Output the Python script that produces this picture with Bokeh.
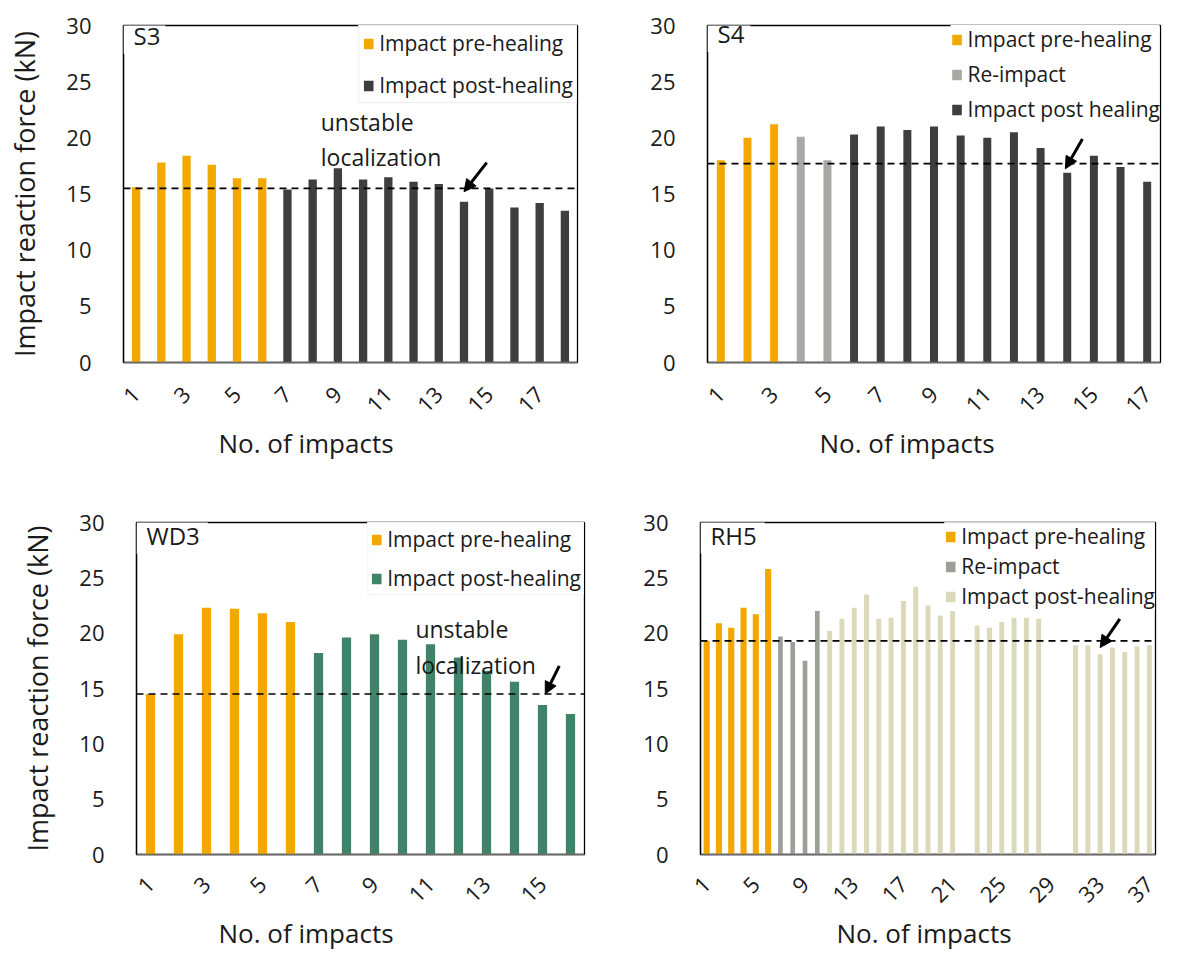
from math import pi
from bokeh.plotting import figure
from bokeh.models import (Range1d, FixedTicker, Span, Label, Arrow, NormalHead,
                          Legend, LegendItem, Title)
from bokeh.layouts import column, row
from bokeh.embed import file_html
from bokeh.resources import INLINE

FONT = "Open Sans"

# ---------------- data ----------------
s3_pre = [15.6, 17.8, 18.4, 17.6, 16.4, 16.4]
s3_post = [15.4, 16.3, 17.3, 16.3, 16.5, 16.1, 15.9, 14.3, 15.5, 13.8, 14.2, 13.5]
s3_threshold = 15.5
s3_ticks = [1, 3, 5, 7, 9, 11, 13, 15, 17]

s4_pre = [18.0, 20.0, 21.2]
s4_re = [20.1, 18.0]
s4_post = [20.3, 21.0, 20.7, 21.0, 20.2, 20.0, 20.5, 19.1, 16.9, 18.4, 17.4, 16.1]
s4_threshold = 17.7
s4_ticks = [1, 3, 5, 7, 9, 11, 13, 15, 17]

wd3_pre = [14.5, 19.9, 22.3, 22.2, 21.8, 21.0]
wd3_post = [18.2, 19.6, 19.9, 19.4, 19.0, 17.8, 16.6, 15.6, 13.5, 12.7]
wd3_threshold = 14.5
wd3_ticks = [1, 3, 5, 7, 9, 11, 13, 15]

rh5_pre = [19.3, 20.9, 20.5, 22.3, 21.7, 25.8]
rh5_re = [19.7, 19.2, 17.5, 22.0]
rh5_post = [20.2, 21.3, 22.3, 23.5, 21.3, 21.4, 22.9, 24.2, 22.5, 21.6, 22.0, 0,
            20.7, 20.5, 21.0, 21.4, 21.4, 21.3, 0, 0,
            18.9, 18.9, 18.1, 18.7, 18.3, 18.8, 18.9]
rh5_threshold = 19.3
rh5_ticks = [1, 5, 9, 13, 17, 21, 25, 29, 33, 37]

y_ticks = [0, 5, 10, 15, 20, 25, 30]

ORANGE = "#F2A800"
DARK = "#3E3E3E"
GREY_S4 = "#A9A8A4"
GREEN = "#3F8468"
GREY_RH5 = "#9E9E98"
BEIGE = "#DCD8BA"


def make_panel(name, series, threshold, ticks, geom, legend_geom,
               notes=None, arrow=None, ytitle=False):
    n = sum(len(s[1]) for s in series)
    p = figure(width=geom["w"], height=geom["h"],
               x_range=Range1d(0.5, n + 0.5), y_range=Range1d(0, 30),
               output_backend="svg", toolbar_location=None,
               min_border_left=geom["l"], min_border_right=geom["r"],
               min_border_top=geom["t"], min_border_bottom=geom["b"])
    p.xgrid.visible = False
    p.ygrid.visible = False
    p.outline_line_color = "black"
    p.outline_line_width = 1.3
    p.background_fill_color = "white"
    p.border_fill_color = "white"

    # axes
    p.yaxis.ticker = FixedTicker(ticks=y_ticks)
    p.yaxis.major_tick_line_color = None
    p.yaxis.minor_tick_line_color = None
    p.yaxis.axis_line_color = "black"
    p.yaxis.axis_line_width = 1.3
    p.yaxis.major_label_text_font = FONT
    p.yaxis.major_label_text_font_size = "22px"
    p.yaxis.major_label_text_color = "#1a1a1a"
    p.yaxis.major_label_standoff = 26
    if ytitle:
        p.yaxis.axis_label = "Impact reaction force (kN)"
        p.yaxis.axis_label_text_font = FONT
        p.yaxis.axis_label_text_font_size = "27px"
        p.yaxis.axis_label_text_font_style = "normal"
        p.yaxis.axis_label_text_color = "#1a1a1a"
        p.yaxis.axis_label_standoff = 20

    p.xaxis.ticker = FixedTicker(ticks=ticks)
    p.xaxis.major_tick_line_color = None
    p.xaxis.minor_tick_line_color = None
    p.xaxis.axis_line_color = "#6b6b6b"
    p.xaxis.axis_line_width = 1.3
    p.xaxis.major_label_orientation = pi / 4
    p.xaxis.major_label_text_font = FONT
    p.xaxis.major_label_text_font_size = "22px"
    p.xaxis.major_label_text_color = "#1a1a1a"
    p.xaxis.major_label_standoff = geom["s1"]

    # x-axis title, shifted like in the reference
    p.add_layout(Title(text="No. of impacts", align="left", offset=geom["xt"],
                       standoff=geom["s2"], text_font=FONT,
                       text_font_size="26px", text_font_style="normal",
                       text_color="#1a1a1a"), "below")

    # bars
    items = []
    start = 1
    for label, vals, color, width in series:
        xs = list(range(start, start + len(vals)))
        start += len(vals)
        r = p.vbar(x=xs, top=vals, width=width, fill_color=color, line_color=None)
        items.append(LegendItem(label=label, renderers=[r]))

    p.add_layout(Span(location=threshold, dimension="width", line_color="black",
                      line_width=1.6, line_dash="7 5"))

    if notes:
        for txt, x, y in notes:
            p.add_layout(Label(x=x, y=y, text=txt, text_font=FONT,
                               text_font_size="23px", text_color="#1a1a1a",
                               text_baseline="middle", text_align="left"))
    if arrow:
        x0, y0, x1, y1 = arrow
        p.add_layout(Arrow(x_start=x0, y_start=y0, x_end=x1, y_end=y1,
                           line_color="black", line_width=3,
                           end=NormalHead(size=12, fill_color="black",
                                          line_color="black")))

    lg = Legend(items=items, location="top_right", margin=legend_geom["m"],
                padding=legend_geom["pad"], spacing=legend_geom["sp"],
                label_text_font=FONT, label_text_font_size="21px",
                label_text_color="#1a1a1a", label_standoff=5,
                glyph_width=12, glyph_height=13,
                background_fill_color="white",
                background_fill_alpha=legend_geom.get("alpha", 1.0),
                border_line_color=legend_geom["border"])
    p.add_layout(lg)

    ly, lpad = geom["tag"]
    p.add_layout(Label(x=0.5, y=ly, text=name, text_font=FONT,
                       text_font_size="24px", text_color="#1a1a1a",
                       text_baseline="middle", text_align="left",
                       background_fill_color="white", padding=lpad))
    return p


TOP = dict(h=470, t=25, b=108, s1=22, s2=0)
BOT = dict(h=480, t=52, b=93, s1=20, s2=0)

p1 = make_panel(
    "S3",
    [("Impact pre-healing", s3_pre, ORANGE, 0.33),
     ("Impact post-healing", s3_post, DARK, 0.33)],
    s3_threshold, s3_ticks,
    dict(TOP, w=592, l=123, r=15, xt=95, tag=(29.35, (10, 5, 7, 2))),
    dict(m=0, pad=3, sp=14, border="#dddddd"),
    notes=[("unstable", 8.32, 21.45), ("localization", 8.32, 18.27)],
    arrow=(14.9, 17.8, 14.0, 15.2), ytitle=True)

p2 = make_panel(
    "S4",
    [("Impact pre-healing", s4_pre, ORANGE, 0.3),
     ("Re-impact", s4_re, GREY_S4, 0.3),
     ("Impact post healing", s4_post, DARK, 0.3)],
    s4_threshold, s4_ticks,
    dict(TOP, w=584, l=115, r=16, xt=112, tag=(29.5, (10, 6, 7, 2))),
    dict(m=0, pad=1, sp=7, border=None),
    arrow=(14.57, 19.9, 13.93, 17.25))

p3 = make_panel(
    "WD3",
    [("Impact pre-healing", wd3_pre, ORANGE, 0.33),
     ("Impact post-healing", wd3_post, GREEN, 0.33)],
    wd3_threshold, wd3_ticks,
    dict(BOT, w=592, l=136, r=8, xt=82, tag=(29.0, (10, 8, 6, 2))),
    dict(m=0, pad=2, sp=11, border="#e6e6e6"),
    notes=[("unstable", 10.46, 20.4), ("localization", 10.46, 17.1)],
    arrow=(15.6, 17.05, 15.1, 14.5), ytitle=True)

p4 = make_panel(
    "RH5",
    [("Impact pre-healing", rh5_pre, ORANGE, 0.5),
     ("Re-impact", rh5_re, GREY_RH5, 0.38),
     ("Impact post-healing", rh5_post, BEIGE, 0.4)],
    rh5_threshold, rh5_ticks,
    dict(BOT, w=584, l=108, r=21, xt=136, tag=(29.05, (10, 8, 6, 2))),
    dict(m=0, pad=0, sp=2, border=None, alpha=0.85),
    arrow=(34.6, 21.3, 33.0, 18.7))

layout = column(row(p1, p2), row(p3, p4))

open("out.html", "w").write(file_html(layout, INLINE))
